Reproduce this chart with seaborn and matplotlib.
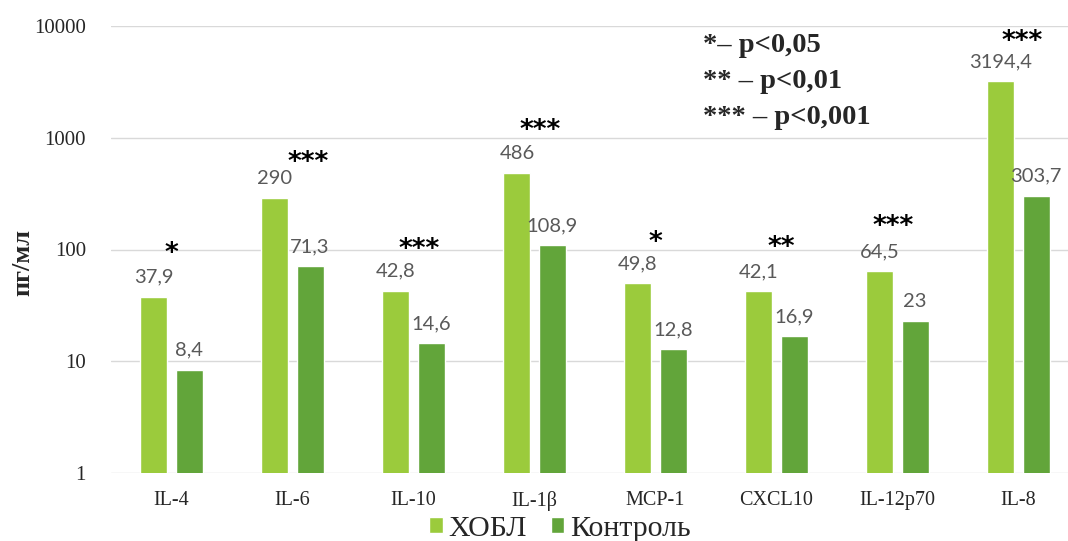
import numpy as np
import pandas as pd
import seaborn as sns
import matplotlib.pyplot as plt

categories = ['IL-4', 'IL-6', 'IL-10', 'IL-1β', 'MCP-1', 'CXCL10', 'IL-12p70', 'IL-8']
copd = [37.9, 290, 42.8, 486, 49.8, 42.1, 64.5, 3194.4]
control = [8.4, 71.3, 14.6, 108.9, 12.8, 16.9, 23, 303.7]
groups = ['ХОБЛ', 'Контроль']
stars = ['*', '***', '***', '***', '*', '**', '***', '***']
star_x_shift = [0.0, 0.13, 0.05, 0.05, 0.0, 0.04, -0.04, 0.03]
star_y = [91, 595, 99, 1150, 114, 103, 159, 7200]
colors = ['#9BCB3C', '#62A53A']

df = pd.DataFrame({
    'cat': categories * 2,
    'grp': [groups[0]] * len(categories) + [groups[1]] * len(categories),
    'val': copd + control,
})

sns.set_style('white')
plt.rcParams['font.family'] = ['Liberation Serif', 'DejaVu Serif']

fig = plt.figure(figsize=(10.68, 5.41), dpi=100)
ax = fig.add_axes([111 / 1068, 68 / 541, 957 / 1068, 447 / 541])
ax.set_yscale('log')

sns.barplot(data=df, x='cat', y='val', hue='grp', palette=colors,
            width=0.579, gap=0.229, ax=ax, legend=True, saturation=1)

ax.set_ylim(1, 10000)
ax.set_xlim(-0.5, -0.5 + 957 / 121)
ax.set_yticks([1, 10, 100, 1000, 10000])
ax.set_yticklabels(['1', '10', '100', '1000', '10000'], fontsize=15)
ax.minorticks_off()
ax.yaxis.grid(True, color='#D9D9D9', linewidth=1)
ax.set_axisbelow(True)
for s in ax.spines.values():
    s.set_visible(False)
ax.tick_params(axis='y', length=0, pad=18)
ax.tick_params(axis='x', length=0, pad=13, labelsize=14.5)
ax.set_xlabel('')
ax.set_ylabel('')
fig.text(23 / 1068, 1 - 262 / 541, 'пг/мл', rotation=90, ha='center', va='center',
         fontsize=19, fontweight='bold')

# value labels
for i in range(len(categories)):
    for j, vals in enumerate([copd, control]):
        xpos = i + (-0.1448 if j == 0 else 0.1448)
        txt = f'{vals[i]:g}'.replace('.', ',')
        ax.annotate(txt, (xpos, vals[i]), xytext=(0, 10), textcoords='offset points',
                    ha='center', va='baseline', fontsize=14.5, color='#595959',
                    family=['Lato', 'DejaVu Sans'])

# significance stars
for i in range(len(categories)):
    ax.text(i + star_x_shift[i], star_y[i], stars[i], ha='center', va='center',
            fontsize=19, fontweight='bold', color='black', family=['DejaVu Sans'])

# p-value key
for k, line in enumerate(['*– p<0,05', '** – p<0,01', '*** – p<0,001']):
    fig.text(703 / 1068, 1 - (46 + 36 * k) / 541, line, fontsize=20.5,
             fontweight='bold', va='center', ha='left')

handles, labels = ax.get_legend_handles_labels()
if ax.legend_ is not None:
    ax.legend_.remove()
fig.legend(handles, labels, loc='center', bbox_to_anchor=(560 / 1068, 1 - 529 / 541),
           ncol=2, frameon=False, fontsize=21.5, handlelength=0.45, handleheight=0.45,
           handletextpad=0.2, columnspacing=0.8, borderaxespad=0)

fig.savefig('out.png', dpi=100)
